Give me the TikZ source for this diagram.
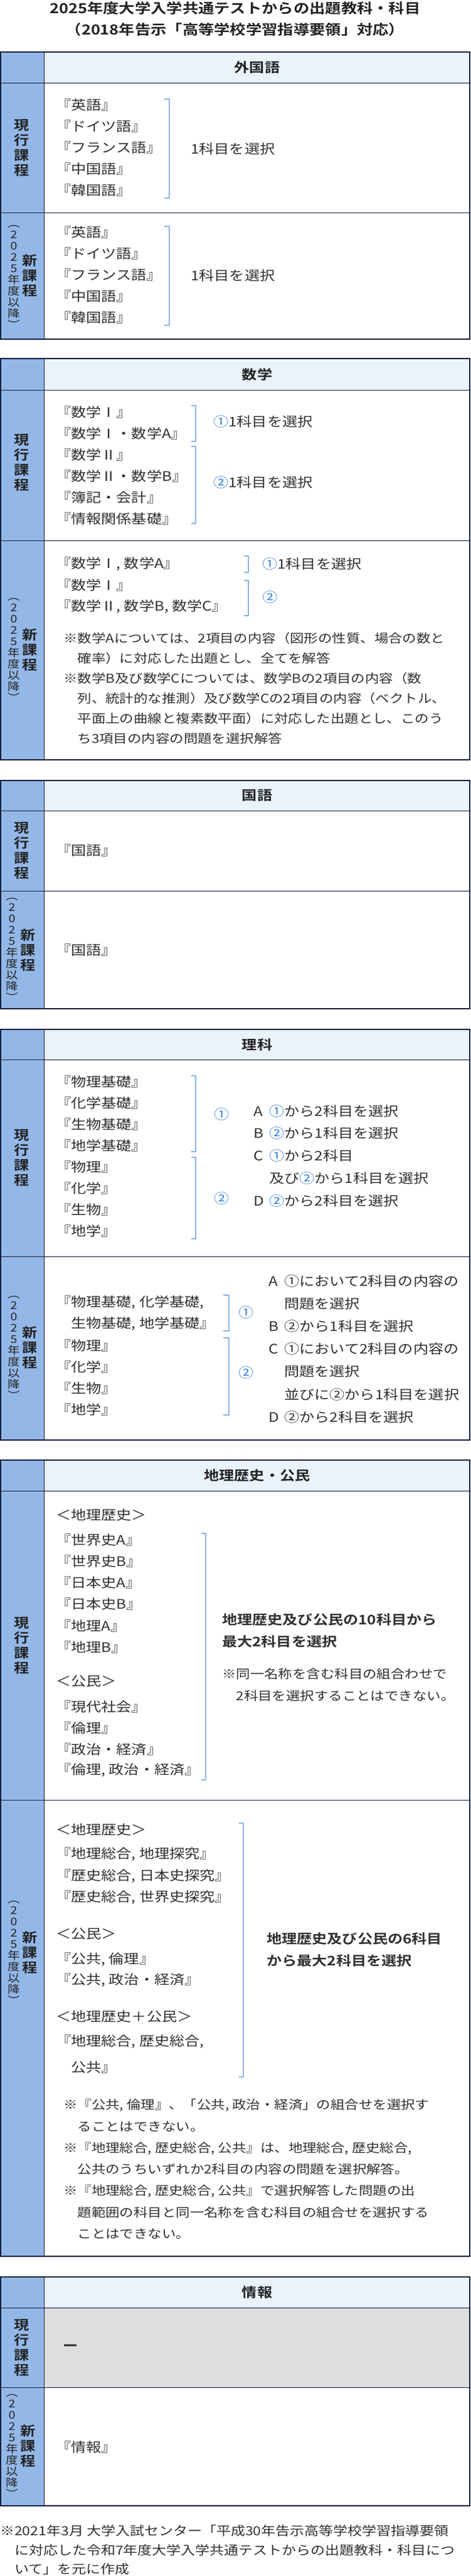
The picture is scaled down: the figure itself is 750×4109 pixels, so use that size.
\documentclass[tikz,border=0pt]{standalone}
\usepackage{fontspec}
\setmainfont{Noto Sans CJK JP}[FakeStretch=1.15,BoldFont={Noto Sans CJK JP Bold}]

\definecolor{framecol}{HTML}{161D3D}
\definecolor{sidecol}{HTML}{93B8E8}
\definecolor{headcol}{HTML}{EAF2FC}
\definecolor{brkcol}{HTML}{8DB3E6}
\definecolor{numblue}{HTML}{2F7AD6}
\definecolor{ink}{HTML}{303030}
\definecolor{headink}{HTML}{222222}
\definecolor{nonecol}{HTML}{DEDEDE}

\newcommand{\numone}{\textcolor{numblue}{①}}
\newcommand{\numtwo}{\textcolor{numblue}{②}}
\newcommand{\choicetag}[1]{\makebox[25pt][l]{#1}}
% a bracket: x, top, bottom, end of the ticks
\newcommand{\selbracket}[4]{\draw[brk] (#4,#2) -- (#1,#2) -- (#1,#3) -- (#4,#3);}
% a panel: name, title, top, header bottom, row divider, bottom
\newcommand{\subjectpanel}[6]{%
  \fill[sidecol] (0,#3) rectangle (70,#6);
  \fill[headcol] (70,#3) rectangle (750,#4);
  \draw[rule] (0,#4) -- (750,#4) (0,#5) -- (750,#5) (70,#3) -- (70,#6);
  \draw[frame] (1,#3) rectangle (749,#6);
  \node[head] (#1-head) at (410,{(#3+#4)/2}) {#2};}

\begin{document}
\begin{tikzpicture}[x=1pt,y=-1pt,
  frame/.style={draw=framecol,line width=2pt},
  rule/.style={draw=framecol,line width=1pt},
  brk/.style={draw=brkcol,line width=1.6pt},
  head/.style={inner sep=0pt,text=headink,font=\bfseries\fontsize{21}{24}\selectfont},
  item/.style={anchor=west,inner sep=0pt,text=ink,font=\fontsize{21}{34}\selectfont},
  bolditem/.style={item,align=left,font=\bfseries\fontsize{21}{35}\selectfont},
  note/.style={anchor=west,inner sep=0pt,align=left,text=ink,font=\fontsize{19.5}{32}\selectfont},
  cur/.style={inner sep=0pt,align=center,text=headink,font=\bfseries\fontsize{21}{24}\selectfont},
  yrs/.style={inner sep=0pt,align=center,text=headink,font=\fontsize{17}{18}\selectfont}]
\useasboundingbox (0,0) rectangle (750,4109);

% the title
\node[align=center,inner sep=0pt,text=headink,font=\bfseries\fontsize{22}{34}\selectfont] (title) at (375,30)
  {2025年度大学入学共通テストからの出題教科・科目\\（2018年告示「高等学校学習指導要領」対応）};

% foreign languages
\subjectpanel{lang}{外国語}{83}{132}{339}{541}
\node[cur] (lang-cur) at (35,236) {現\\行\\課\\程};
\node[cur] (lang-new) at (48,440) {新\\課\\程};
\node[yrs] (lang-yrs) at (22,442) {︵\\2\\0\\2\\5\\年\\度\\以\\降\\︶};
\foreach \subj [count=\i] in {『英語』,『ドイツ語』,『フランス語』,『中国語』,『韓国語』}{
  \node[item] (lang-a\i) at (89,{134+34*\i}) {\subj};
  \node[item] (lang-b\i) at (89,{337+34*\i}) {\subj};
}
\selbracket{270}{158}{316}{262}
\selbracket{270}{361}{519}{262}
\node[item] (lang-a-sel) at (304,238) {1科目を選択};
\node[item] (lang-b-sel) at (304,440) {1科目を選択};

% mathematics
\subjectpanel{math}{数学}{572}{622}{862}{1212}
\node[cur] (math-cur) at (35,738) {現\\行\\課\\程};
\node[cur] (math-new) at (48,1037) {新\\課\\程};
\node[yrs] (math-yrs) at (22,1037) {︵\\2\\0\\2\\5\\年\\度\\以\\降\\︶};
\foreach \subj [count=\i] in {『数学Ⅰ』,『数学Ⅰ・数学A』,『数学Ⅱ』,『数学Ⅱ・数学B』,『簿記・会計』,『情報関係基礎』}
  \node[item] (math-a\i) at (89,{624+34*\i}) {\subj};
\selbracket{312}{647}{704}{305}
\selbracket{312}{712}{835}{305}
\node[item] (math-a-sel1) at (340,673) {\numone 1科目を選択};
\node[item] (math-a-sel2) at (340,770) {\numtwo 1科目を選択};
\foreach \subj [count=\i] in {{『数学Ⅰ, 数学A』},『数学Ⅰ』,{『数学Ⅱ, 数学B, 数学C』}}
  \node[item] (math-b\i) at (89,{866+34*\i}) {\subj};
\selbracket{396}{887}{913}{389}
\selbracket{396}{926}{982}{389}
\node[item] (math-b-sel1) at (418,900) {\numone 1科目を選択};
\node[item] (math-b-sel2) at (418,953) {\numtwo};
\node[note] (math-note) at (101,1098)
  {※数学Aについては、2項目の内容（図形の性質、場合の数と\\　確率）に対応した出題とし、全てを解答\\※数学B及び数学Cについては、数学Bの2項目の内容（数\\　列、統計的な推測）及び数学Cの2項目の内容（ベクトル、\\　平面上の曲線と複素数平面）に対応した出題とし、このう\\　ち3項目の内容の問題を選択解答};

% Japanese
\subjectpanel{jpn}{国語}{1245}{1293}{1421}{1609}
\node[cur] (jpn-cur) at (35,1357) {現\\行\\課\\程};
\node[cur] (jpn-new) at (45,1516) {新\\課\\程};
\node[yrs] (jpn-yrs) at (19,1515) {︵\\2\\0\\2\\5\\年\\度\\以\\降\\︶};
\node[item] (jpn-a) at (89,1357) {『国語』};
\node[item] (jpn-b) at (89,1515) {『国語』};

% science
\subjectpanel{sci}{理科}{1642}{1690}{2004}{2297}
\node[cur] (sci-cur) at (35,1847) {現\\行\\課\\程};
\node[cur] (sci-new) at (48,2150) {新\\課\\程};
\node[yrs] (sci-yrs) at (22,2150) {︵\\2\\0\\2\\5\\年\\度\\以\\降\\︶};
\foreach \subj [count=\i] in {『物理基礎』,『化学基礎』,『生物基礎』,『地学基礎』,『物理』,『化学』,『生物』,『地学』}
  \node[item] (sci-a\i) at (89,{1691+34*\i}) {\subj};
\selbracket{312}{1716}{1837}{305}
\selbracket{312}{1846}{1976}{305}
\node[item] (sci-a-g1) at (341,1777) {\numone};
\node[item] (sci-a-g2) at (341,1911) {\numtwo};
\foreach \choice [count=\i from 0] in {\choicetag{A}\numone から2科目を選択,\choicetag{B}\numtwo から1科目を選択,\choicetag{C}\numone から2科目,\choicetag{}及び\numtwo から1科目を選択,\choicetag{D}\numtwo から2科目を選択}
  \node[item] (sci-a-r\i) at (404,{1772+35.75*\i}) {\choice};
\foreach \subj [count=\i from 0] in {{『物理基礎, 化学基礎,},{　生物基礎, 地学基礎』},『物理』,『化学』,『生物』,『地学』}
  \node[item] (sci-b\i) at (89,{2078+34*\i}) {\subj};
\selbracket{365}{2066}{2123}{356}
\selbracket{365}{2134}{2257}{356}
\node[item] (sci-b-g1) at (380,2093) {\numone};
\node[item] (sci-b-g2) at (380,2189) {\numtwo};
\foreach \choice [count=\i from 0] in {\choicetag{A}①において2科目の内容の,\choicetag{}問題を選択,\choicetag{B}②から1科目を選択,\choicetag{C}①において2科目の内容の,\choicetag{}問題を選択,\choicetag{}並びに②から1科目を選択,\choicetag{D}②から2科目を選択}
  \node[item] (sci-b-r\i) at (428,{2043+36.2*\i}) {\choice};

% geography, history and civics
\subjectpanel{soc}{地理歴史・公民}{2329}{2378}{2871}{3599}
\node[cur] (soc-cur) at (35,2625) {現\\行\\課\\程};
\node[cur] (soc-new) at (48,3115) {新\\課\\程};
\node[yrs] (soc-yrs) at (22,3115) {︵\\2\\0\\2\\5\\年\\度\\以\\降\\︶};
\node[item] (soc-a-geo) at (89,2416) {＜地理歴史＞};
\foreach \subj [count=\i] in {『世界史A』,『世界史B』,『日本史A』,『日本史B』,『地理A』,『地理B』}
  \node[item] (soc-a\i) at (89,{2422+34.2*\i}) {\subj};
\node[item] (soc-a-civ) at (89,2682) {＜公民＞};
\foreach \subj [count=\i] in {『現代社会』,『倫理』,『政治・経済』,{『倫理, 政治・経済』}}
  \node[item] (soc-c\i) at (89,{2689+33.7*\i}) {\subj};
\selbracket{328}{2446}{2839}{321}
\node[bolditem] (soc-a-sel) at (354,2601.5) {地理歴史及び公民の10科目から\\最大2科目を選択};
\node[note,font=\fontsize{19.5}{35}\selectfont] (soc-a-note) at (354,2687.5)
  {※同一名称を含む科目の組合わせで\\　2科目を選択することはできない。};
\node[item] (soc-b-geo) at (89,2918) {＜地理歴史＞};
\foreach \subj [count=\i] in {{『地理総合, 地理探究』},{『歴史総合, 日本史探究』},{『歴史総合, 世界史探究』}}
  \node[item] (soc-b\i) at (89,{2923.5+34.5*\i}) {\subj};
\node[item] (soc-b-civ) at (89,3085) {＜公民＞};
\foreach \subj [count=\i] in {{『公共, 倫理』},{『公共, 政治・経済』}}
  \node[item] (soc-d\i) at (89,{3093+33*\i}) {\subj};
\node[item] (soc-b-mix) at (89,3217) {＜地理歴史＋公民＞};
\node[item] (soc-b-m1) at (89,3257) {『地理総合, 歴史総合,};
\node[item] (soc-b-m2) at (89,3298) {　公共』};
\selbracket{388}{2908}{3313}{381}
\node[bolditem] (soc-b-sel) at (425,3110.5) {地理歴史及び公民の6科目\\から最大2科目を選択};
\node[note,font=\fontsize{19.5}{34.3}\selectfont] (soc-b-note) at (101,3460)
  {※『公共, 倫理』、「公共, 政治・経済」の組合せを選択す\\　ることはできない。\\※『地理総合, 歴史総合, 公共』は、地理総合, 歴史総合,\\　公共のうちいずれか2科目の内容の問題を選択解答。\\※『地理総合, 歴史総合, 公共』で選択解答した問題の出\\　題範囲の科目と同一名称を含む科目の組合せを選択する\\　ことはできない。};

% information
\fill[nonecol] (70,3681) rectangle (750,3808);
\subjectpanel{info}{情報}{3632}{3681}{3808}{3997}
\node[cur] (info-cur) at (35,3745) {現\\行\\課\\程};
\node[cur] (info-new) at (45,3902) {新\\課\\程};
\node[yrs] (info-yrs) at (19,3902) {︵\\2\\0\\2\\5\\年\\度\\以\\降\\︶};
\node[item,font=\bfseries\fontsize{21}{24}\selectfont] (info-a) at (100,3745) {ー};
\node[item] (info-b) at (89,3903) {『情報』};

% the source
\node[note,font=\fontsize{20}{30.5}\selectfont] (source) at (0,4067.5)
  {※2021年3月 大学入試センター「平成30年告示高等学校学習指導要領\\　に対応した令和7年度大学入学共通テストからの出題教科・科目につ\\　いて」を元に作成};
\end{tikzpicture}
\end{document}
